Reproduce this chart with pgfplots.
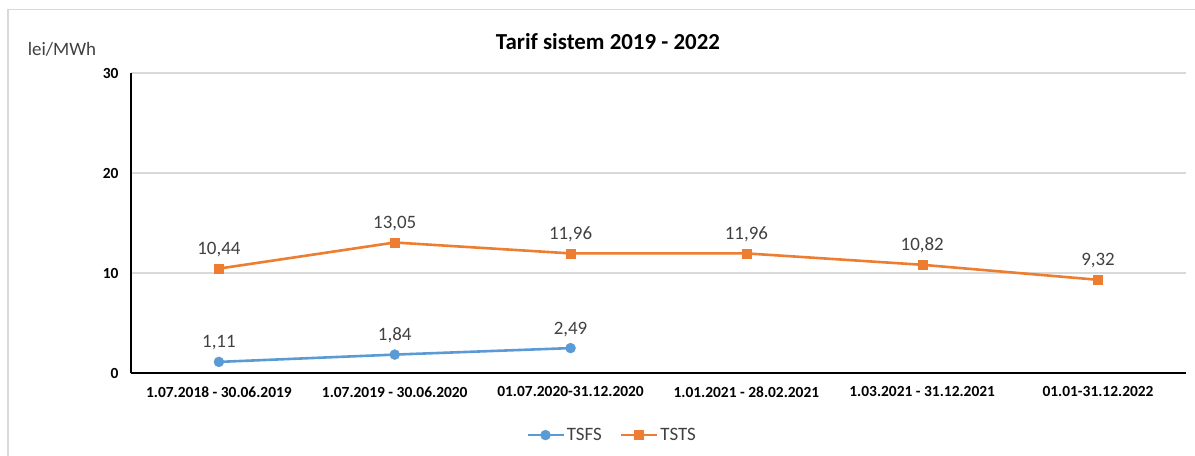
\documentclass[border=0pt]{standalone}
\usepackage{pgfplots}
\pgfplotsset{compat=1.18}
\usepackage{fontspec}
\setmainfont{Carlito}
\definecolor{tsfs}{HTML}{5B9BD5}
\definecolor{tsts}{HTML}{ED7D31}
\definecolor{lbl}{HTML}{404040}
\definecolor{gridc}{HTML}{D9D9D9}

\begin{document}
\begin{tikzpicture}
\useasboundingbox (0,0) rectangle (1195bp,456bp);
% chart frame
\draw[gridc, line width=1.2bp] (8bp,-2bp) -- (8bp,446.5bp) -- (1197bp,446.5bp);
\node[font=\fontsize{23}{26}\selectfont\bfseries] at (608bp,414bp) {Tarif sistem 2019 - 2022};
\node[font=\fontsize{19}{22}\selectfont, text=lbl] at (62bp,407bp) {lei/MWh};

\begin{axis}[
    at={(131bp,83bp)}, anchor=south west,
    scale only axis,
    width=1055bp, height=300bp,
    xmin=-0.5, xmax=5.5,
    ymin=0, ymax=30,
    xtick={0,1,2,3,4,5},
    xticklabels={1.07.2018 - 30.06.2019, 1.07.2019 - 30.06.2020, 01.07.2020-31.12.2020,
                 1.01.2021 - 28.02.2021, 1.03.2021 - 31.12.2021, 01.01-31.12.2022},
    ytick={0,10,20,30},
    /pgf/number format/assume math mode=true,
    major tick length=0pt,
    axis x line*=bottom,
    axis y line*=left,
    x axis line style={black, line width=1.8bp},
    y axis line style={black, line width=1.2bp},
    ymajorgrids,
    grid style={gridc, line width=1.2bp},
    xticklabel style={font=\fontsize{15.5}{17}\selectfont\bfseries, yshift=-10bp},
    yticklabel style={font=\fontsize{15.5}{17}\selectfont\bfseries, xshift=-9bp},
    nodes near coords,
    point meta=explicit symbolic,
    every node near coord/.append style={font=\fontsize{19}{22}\selectfont, text=lbl, yshift=8bp},
    legend columns=2,
    legend style={at={(0.456,-0.207)}, anchor=center, draw=none, fill=none,
        font=\fontsize{19}{22}\selectfont, text=lbl,
        /tikz/every even column/.append style={column sep=16bp}},
    legend image code/.code={\draw[mark repeat=2, mark phase=2]
        plot coordinates {(0bp,0bp) (18bp,0bp) (36bp,0bp)};},
]

\addplot[tsfs, line width=2.6bp, mark=*, mark size=5bp, mark options={fill=tsfs, draw=tsfs, line width=0.4bp}]
table[meta=lbl] {
x y lbl
0 1.11 1,11
1 1.84 1,84
2 2.49 2,49
};
\addlegendentry{TSFS}

\addplot[tsts, line width=2.6bp, mark=square*, mark size=4.5bp, mark options={fill=tsts, draw=tsts, line width=0.4bp}]
table[meta=lbl] {
x y lbl
0 10.44 10,44
1 13.05 13,05
2 11.96 11,96
3 11.96 11,96
4 10.82 10,82
5 9.32 9,32
};
\addlegendentry{TSTS}

\end{axis}
\end{tikzpicture}
\end{document}
